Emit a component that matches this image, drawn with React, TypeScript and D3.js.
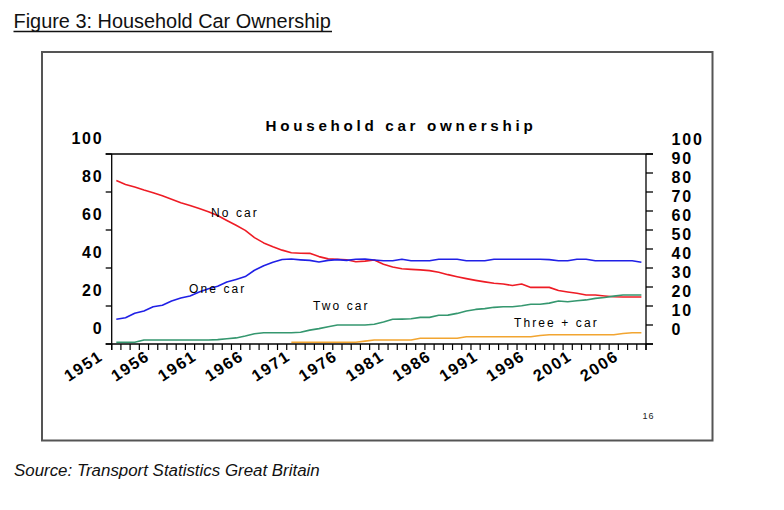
import React from "react";
import * as d3 from "d3";

const years: number[] = d3.range(1951, 2009);

const noCar: number[] = [
  86, 84, 82.6, 81, 79.6, 78, 76.2, 74.3, 72.9, 71.3,
  69.6, 67.6, 65, 62.5, 59.8, 56, 53.2, 51.2, 49.4, 48,
  47.8, 47.7, 46, 44.8, 44.6, 44.3, 43.3, 43.6, 44.2, 42,
  40.5, 39.6, 39.3, 39, 38.6, 37.8, 36.5, 35.4, 34.4, 33.5,
  32.7, 32, 31.6, 30.8, 31.6, 29.8, 29.8, 29.8, 28.2, 27.4,
  26.7, 25.8, 25.8, 25.3, 24.9, 24.7, 24.7, 24.7,
];

const oneCar: number[] = [
  13, 13.8, 16.2, 17.4, 19.6, 20.4, 22.6, 24.2, 25.3, 27.4,
  29.1, 30.4, 32.6, 34, 35.5, 38.8, 41.2, 43, 44.5, 44.7,
  44.3, 44, 43.2, 44, 44.4, 44, 44.6, 44.7, 44.2, 43.8,
  43.8, 44.6, 43.8, 43.8, 43.8, 44.6, 44.6, 44.6, 43.8, 43.8,
  43.8, 44.6, 44.6, 44.6, 44.6, 44.6, 44.6, 44.4, 43.8, 43.8,
  44.6, 44.6, 43.8, 43.8, 43.8, 43.8, 43.8, 43,
];

const twoCar: number[] = [
  0.9, 0.9, 0.9, 2.1, 2.1, 2.1, 2.1, 2.1, 2.1, 2.1,
  2.1, 2.3, 2.8, 3.2, 4.2, 5.4, 5.9, 5.9, 5.9, 5.9,
  6.2, 7.3, 8.1, 9.1, 10, 10, 10, 10, 10.4, 11.6,
  13, 13.1, 13.3, 14, 14, 15.1, 15.2, 16.1, 17.4, 18.2,
  18.6, 19.3, 19.6, 19.6, 20.1, 20.9, 20.9, 21.5, 22.6, 22.2,
  22.8, 23.2, 24, 24.5, 25.2, 25.8, 25.8, 25.8,
];

const threeCar: (number | null)[] = [
  null, null, null, null, null, null, null, null, null, null,
  null, null, null, null, null, null, null, null, null, 0.9,
  0.9, 0.9, 0.9, 0.9, 0.9, 0.9, 0.9, 1.5, 2.1, 2.1,
  2.1, 2.1, 2.1, 3, 3, 3, 3, 3, 3.8, 3.8,
  3.8, 3.8, 3.8, 3.8, 3.8, 3.8, 4.5, 4.9, 4.9, 4.9,
  4.9, 4.9, 4.9, 4.9, 4.9, 5.5, 5.9, 5.9,
];

const xTickLabels: number[] = [1951, 1956, 1961, 1966, 1971, 1976, 1981, 1986, 1991, 1996, 2001, 2006];
const leftTicks: number[] = [0, 20, 40, 60, 80, 100];
const rightTicks: number[] = [0, 10, 20, 30, 40, 50, 60, 70, 80, 90, 100];

const seriesList = [
  { name: "No car", values: noCar, color: "#ee1c25", lx: 211, ly: 216.5 },
  { name: "One car", values: oneCar, color: "#2020e6", lx: 189, ly: 292.5 },
  { name: "Two car", values: twoCar, color: "#35976f", lx: 313, ly: 310 },
  { name: "Three + car", values: threeCar, color: "#f2a531", lx: 514, ly: 326.5 },
];

const W = 784;
const H = 510;
const plotL = 111.7;
const plotR = 646;
const plotT = 154;
const plotB = 344;

export default function App() {
  const x = d3.scaleBand<number>().domain(years).range([plotL, plotR]).padding(0);
  const bw = x.bandwidth();
  const cx = (yr: number) => (x(yr) as number) + bw / 2;
  const y = d3.scaleLinear().domain([0, 100]).range([plotB, plotT]);
  const labelX = d3.scaleLinear().domain([1951, 2006]).range([104, 104 + 11 * 46.9]);

  const line = d3
    .line<number | null>()
    .defined((d) => d !== null)
    .x((_, i) => cx(years[i]))
    .y((d) => y(d as number));

  const boundaries = d3.range(0, years.length + 1).map((i) => plotL + i * bw);
  const axisFont = "'Liberation Sans', Arial, sans-serif";

  return (
    <svg
      width={W}
      height={H}
      style={{ position: "absolute", left: 0, top: 0, background: "#fff" }}
      fontFamily={axisFont}
    >
      <rect x={0} y={0} width={W} height={H} fill="#fff" />
      {/* Figure title */}
      <text x={13.5} y={28.3} fontSize={19.9} fill="#111">
        Figure 3: Household Car Ownership
      </text>
      <line x1={13.5} x2={332} y1={31.5} y2={31.5} stroke="#111" strokeWidth={1.3} />

      {/* Frame */}
      <rect x={42} y={52} width={670.5} height={388.5} fill="none" stroke="#555" strokeWidth={2} />

      {/* Chart title */}
      <text
        x={401}
        y={131}
        textAnchor="middle"
        fontSize={15.2}
        fontWeight="bold"
        letterSpacing={3.7}
        fill="#000"
      >
        Household car ownership
      </text>

      {/* Axes lines */}
      <line x1={105.7} x2={653} y1={plotT} y2={plotT} stroke="#000" strokeWidth={1.3} />
      <line x1={105.7} x2={653} y1={plotB} y2={plotB} stroke="#000" strokeWidth={1.3} />
      <line x1={plotL} x2={plotL} y1={plotT} y2={plotB + 6} stroke="#000" strokeWidth={1.3} />
      <line x1={plotR} x2={plotR} y1={plotT} y2={plotB + 6} stroke="#000" strokeWidth={1.3} />

      {/* Left ticks & labels */}
      {leftTicks.map((t) => (
        <g key={"l" + t}>
          <line x1={105.7} x2={plotL} y1={y(t)} y2={y(t)} stroke="#000" strokeWidth={1.3} />
          <text
            x={103.5}
            y={y(t) - 9.7}
            textAnchor="end"
            fontSize={16}
            fontWeight="bold"
            letterSpacing={1.8}
            fill="#000"
          >
            {t}
          </text>
        </g>
      ))}

      {/* Right ticks & labels */}
      {rightTicks.map((t) => (
        <g key={"r" + t}>
          <line x1={plotR} x2={653} y1={y(t)} y2={y(t)} stroke="#000" strokeWidth={1.3} />
          <text
            x={671.5}
            y={y(t) - 9.3}
            textAnchor="start"
            fontSize={16}
            fontWeight="bold"
            letterSpacing={1.8}
            fill="#000"
          >
            {t}
          </text>
        </g>
      ))}

      {/* Bottom ticks */}
      {boundaries.map((bx, i) => (
        <line key={"b" + i} x1={bx} x2={bx} y1={plotB} y2={plotB + 6} stroke="#000" strokeWidth={1.2} />
      ))}

      {/* X labels */}
      {xTickLabels.map((yr) => (
        <text
          key={"x" + yr}
          transform={`translate(${labelX(yr)},359) rotate(-33)`}
          textAnchor="end"
          fontSize={16.2}
          fontWeight="bold"
          letterSpacing={1.5}
          fill="#000"
        >
          {yr}
        </text>
      ))}

      {/* Lines */}
      {seriesList.map((s) => (
        <path
          key={s.name}
          d={line(s.values as (number | null)[]) || ""}
          fill="none"
          stroke={s.color}
          strokeWidth={1.6}
          strokeLinejoin="round"
        />
      ))}

      {/* Series labels */}
      {seriesList.map((s) => (
        <text
          key={"lab" + s.name}
          x={s.lx}
          y={s.ly}
          fontSize={12}
          letterSpacing={2.1}
          fill="#000"
        >
          {s.name}
        </text>
      ))}

      {/* Page number */}
      <text x={642.5} y={418.5} fontSize={9} letterSpacing={0.9} fill="#222">
        16
      </text>

      {/* Source */}
      <text x={14} y={476} fontSize={16.9} fontStyle="italic" fill="#111">
        Source: Transport Statistics Great Britain
      </text>
    </svg>
  );
}
